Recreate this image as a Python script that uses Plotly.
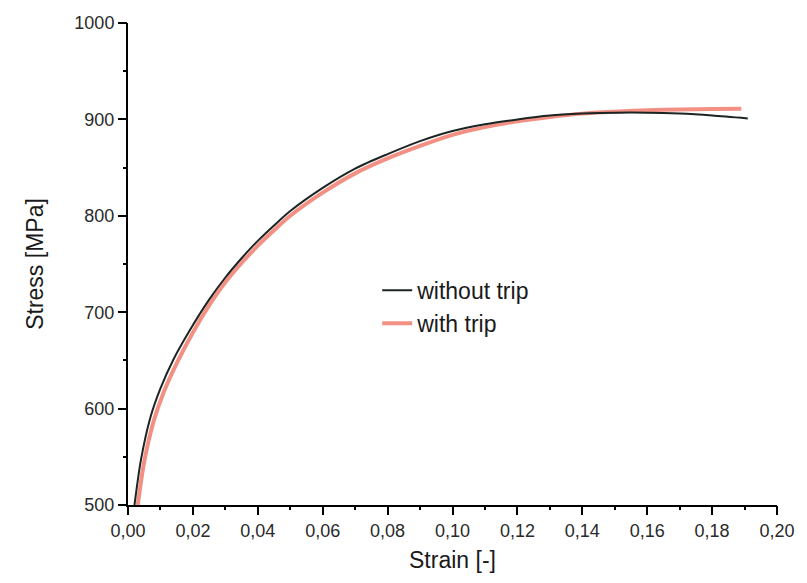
import plotly.graph_objects as go

# Data
strain_without = [0.002, 0.004, 0.007, 0.010, 0.014, 0.019, 0.025, 0.030, 0.035, 0.040, 0.045,
                  0.050, 0.060, 0.070, 0.080, 0.090, 0.100, 0.110, 0.120, 0.130, 0.140,
                  0.150, 0.160, 0.170, 0.180, 0.191]
stress_without = [500, 547, 592, 621, 651, 681, 713, 736, 756, 774, 790,
                  805, 829, 849, 864, 877.5, 888, 895, 900, 904, 906,
                  907, 907, 906, 904, 901]

strain_with = [0.003, 0.005, 0.008, 0.011, 0.015, 0.020, 0.025, 0.030, 0.035, 0.040, 0.045,
               0.050, 0.060, 0.070, 0.080, 0.090, 0.100, 0.110, 0.120, 0.130, 0.140,
               0.150, 0.160, 0.170, 0.180, 0.189]
stress_with = [500, 545, 588, 617, 647, 679, 707, 731, 751, 769, 785,
               800, 824, 844, 859.5, 872.5, 884, 892, 898, 902.5, 906,
               908, 909.5, 910.2, 910.7, 911]

x_range = [0.0, 0.20]
x_tick_step = 0.02
y_range = [500, 1000]
y_tick_step = 100

FONT = "Liberation Sans, Arial, sans-serif"
AX = "black"

fig = go.Figure()
fig.add_trace(go.Scatter(
    x=strain_with, y=stress_with, mode="lines", name="with trip",
    line=dict(color="rgba(240,124,110,0.85)", width=4, shape="spline", smoothing=0.8),
    legendrank=2, xaxis="x", yaxis="y",
))
fig.add_trace(go.Scatter(
    x=strain_without, y=stress_without, mode="lines", name="without trip",
    line=dict(color="#1c2424", width=2, shape="spline", smoothing=0.8),
    legendrank=1, xaxis="x2", yaxis="y2",
))

tickfont = dict(family=FONT, size=18, color="#2a2a2a")
titlefont = dict(family=FONT, size=23, color="#1a1a1a")

fig.update_layout(
    width=807, height=583,
    margin=dict(l=128, r=23, t=23, b=78),
    paper_bgcolor="white", plot_bgcolor="white",
    separators=",.",
    showlegend=True,
    legend=dict(
        x=0.384, y=0.49, xanchor="left", yanchor="top",
        bgcolor="rgba(0,0,0,0)", borderwidth=0,
        font=dict(family=FONT, size=23, color="#1a1a1a"),
        tracegroupgap=0,
    ),
    # main axes: line, major ticks, labels
    xaxis=dict(
        range=x_range, dtick=x_tick_step, tickformat=".2f",
        showline=True, linecolor=AX, linewidth=2,
        showgrid=True, gridcolor="rgba(0,0,0,0)", zeroline=False,
        ticks="outside", ticklen=8, tickwidth=2, tickcolor=AX,
        tickfont=tickfont,
        title=dict(text="Strain [-]", font=titlefont, standoff=12),
    ),
    yaxis=dict(
        range=y_range, dtick=y_tick_step, tickformat="d",
        showline=True, linecolor=AX, linewidth=2,
        showgrid=True, gridcolor="rgba(0,0,0,0)", zeroline=False,
        ticks="outside", ticklen=8, tickwidth=2, tickcolor=AX,
        tickfont=tickfont,
        title=dict(text="Stress [MPa]", font=titlefont, standoff=24),
    ),
    # overlay axes: minor ticks only
    xaxis2=dict(
        range=x_range, overlaying="x", anchor="y2", side="bottom",
        dtick=x_tick_step / 2,
        showline=False, showgrid=False, zeroline=False, showticklabels=False,
        ticks="outside", ticklen=4, tickwidth=2, tickcolor=AX,
    ),
    yaxis2=dict(
        range=y_range, overlaying="y", anchor="x2", side="left",
        dtick=y_tick_step / 2,
        showline=False, showgrid=False, zeroline=False, showticklabels=False,
        ticks="outside", ticklen=4, tickwidth=2, tickcolor=AX,
    ),
)

fig.write_html("out.html")
